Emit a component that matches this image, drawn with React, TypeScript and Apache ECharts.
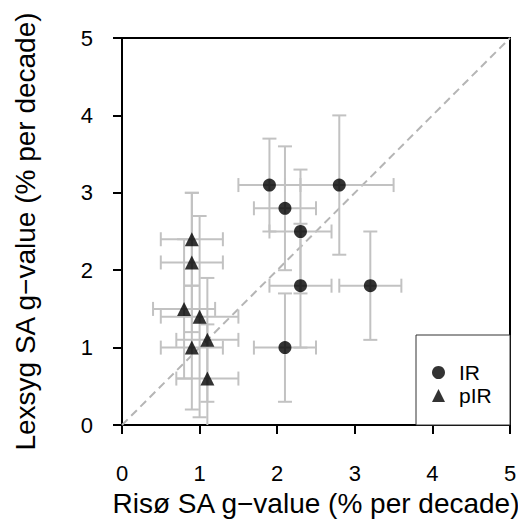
import React, { useEffect, useRef } from "react";
import * as echarts from "echarts";

const irX = [1.9, 2.8, 2.1, 2.3, 2.3, 3.2, 2.1];
const irY = [3.1, 3.1, 2.8, 2.5, 1.8, 1.8, 1.0];
const irXErr = [0.4, 0.7, 0.4, 0.4, 0.4, 0.4, 0.4];
const irYErr = [0.6, 0.9, 0.8, 0.8, 0.8, 0.7, 0.7];

const pirX = [0.9, 0.9, 0.8, 1.0, 1.1, 0.9, 1.1];
const pirY = [2.4, 2.1, 1.5, 1.4, 1.1, 1.0, 0.6];
const pirXErr = [0.4, 0.4, 0.4, 0.5, 0.4, 0.4, 0.4];
const pirYErr = [0.6, 0.9, 0.9, 1.3, 0.8, 0.8, 0.7];

const diagonal = [
  [0, 0],
  [5, 5],
];

const FONT = "'Liberation Sans', Arial, sans-serif";

function errRows(xs: number[], ys: number[], exs: number[], eys: number[]) {
  return xs.map((x, i) => [x, ys[i], exs[i], eys[i]]);
}

function renderErr(params: any, api: any) {
  const x = api.value(0);
  const y = api.value(1);
  const ex = api.value(2);
  const ey = api.value(3);
  const l = api.coord([x - ex, y]);
  const r = api.coord([x + ex, y]);
  const t = api.coord([x, y + ey]);
  const b = api.coord([x, y - ey]);
  const c = 7;
  const style = { stroke: "#c2c2c2", lineWidth: 2 };
  const ln = (x1: number, y1: number, x2: number, y2: number) => ({
    type: "line",
    shape: { x1, y1, x2, y2 },
    style,
  });
  return {
    type: "group",
    children: [
      ln(l[0], l[1], r[0], r[1]),
      ln(t[0], t[1], b[0], b[1]),
      ln(l[0], l[1] - c, l[0], l[1] + c),
      ln(r[0], r[1] - c, r[0], r[1] + c),
      ln(t[0] - c, t[1], t[0] + c, t[1]),
      ln(b[0] - c, b[1], b[0] + c, b[1]),
    ],
  };
}

export default function App() {
  const ref = useRef<HTMLDivElement>(null);
  useEffect(() => {
    document.body.style.margin = "0";
    if (!ref.current) return;
    const chart = echarts.init(ref.current, null, { renderer: "svg" });
    const axisCommon = {
      type: "value",
      min: 0,
      max: 5,
      interval: 1,
      splitLine: { show: false },
      axisLine: { show: true, onZero: false, lineStyle: { color: "#000", width: 2 } },
      axisTick: { show: true, inside: false, length: 9, lineStyle: { color: "#000", width: 2 } },
      nameLocation: "middle",
      nameTextStyle: { fontSize: 28, color: "#000", fontFamily: FONT, fontWeight: "normal" },
    };
    chart.setOption({
      animation: false,
      backgroundColor: "#fff",
      grid: {
        left: 122,
        right: 8,
        top: 38,
        bottom: 100,
        show: true,
        borderColor: "#000",
        borderWidth: 2,
        containLabel: false,
        outerBoundsMode: "none",
      },
      xAxis: {
        ...axisCommon,
        name: "Risø SA g−value (% per decade)",
        nameGap: 64,
        axisLabel: { fontSize: 22, color: "#000", fontFamily: FONT, margin: 37 },
      },
      yAxis: {
        ...axisCommon,
        name: "Lexsyg SA g−value (% per decade)",
        nameGap: 83,
        axisLabel: { fontSize: 22, color: "#000", fontFamily: FONT, margin: 29 },
      },
      legend: {
        data: ["IR", "pIR"],
        orient: "vertical",
        left: 432,
        top: 362,
        itemWidth: 13,
        itemHeight: 13,
        itemGap: 2,
        padding: 0,
        textStyle: { fontSize: 21, color: "#000", fontFamily: FONT, padding: [0, 0, 0, 9] },
      },
      graphic: [
        {
          type: "rect",
          shape: { x: 416, y: 335, width: 94, height: 90 },
          style: { fill: "#fff", stroke: "#333", lineWidth: 1 },
          z: 1,
        },
      ],
      series: [
        {
          type: "line",
          data: diagonal,
          symbol: "none",
          lineStyle: { color: "#b5b5b5", width: 2, type: [8, 5] },
          silent: true,
          z: 1,
        },
        {
          type: "custom",
          name: "IR-err",
          data: errRows(irX, irY, irXErr, irYErr),
          renderItem: renderErr,
          encode: { x: 0, y: 1 },
          clip: true,
          z: 2,
        },
        {
          type: "custom",
          name: "pIR-err",
          data: errRows(pirX, pirY, pirXErr, pirYErr),
          renderItem: renderErr,
          encode: { x: 0, y: 1 },
          clip: true,
          z: 2,
        },
        {
          type: "scatter",
          name: "IR",
          data: irX.map((x, i) => [x, irY[i]]),
          symbol: "circle",
          symbolSize: 13,
          itemStyle: { color: "#000" },
          z: 5,
        },
        {
          type: "scatter",
          name: "pIR",
          data: pirX.map((x, i) => [x, pirY[i]]),
          symbol: "triangle",
          symbolSize: 14,
          itemStyle: { color: "#000" },
          z: 5,
        },
      ],
    });
    return () => chart.dispose();
  }, []);
  return <div ref={ref} style={{ width: 518, height: 525 }} />;
}
